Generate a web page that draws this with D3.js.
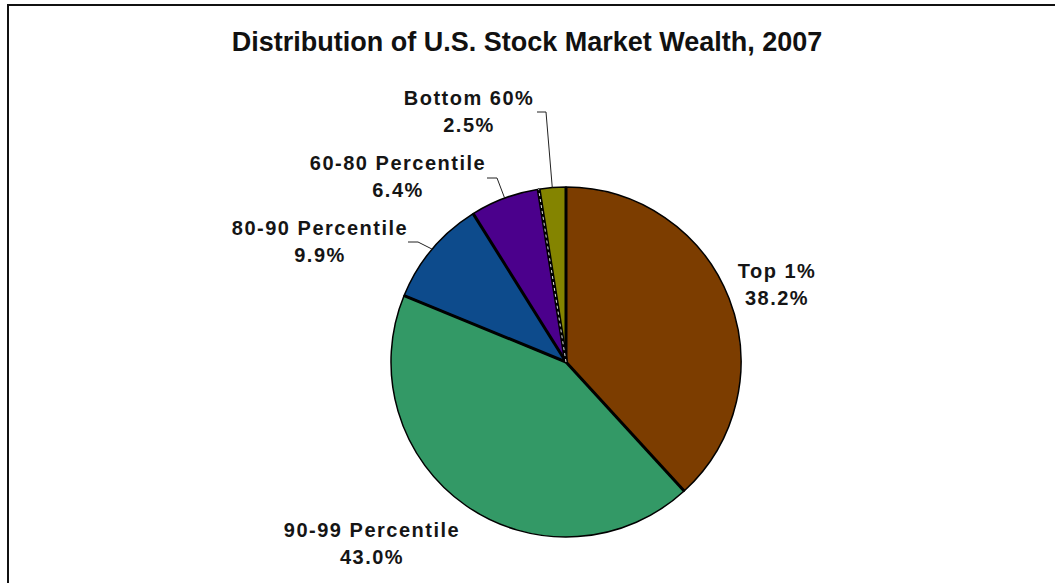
<!DOCTYPE html>
<html>
<head>
<meta charset="utf-8">
<script src="https://cdn.jsdelivr.net/npm/d3@7"></script>
<style>
	body { margin: 0; background: #fff; }
	.label { font-family: "Liberation Sans", Arial, sans-serif; font-weight: bold; font-size: 20px; letter-spacing: 1.5px; fill: #151515; }
	.title { font-family: "Liberation Sans Narrow", "Arial Narrow", "Liberation Sans", sans-serif; font-weight: bold; font-size: 27px; fill: #111; }
</style>
</head>
<body>
<script>
// data
const categories = ['Top 1%', '90-99 Percentile', '80-90 Percentile', '60-80 Percentile', 'Bottom 60%'];
const shares = [38.2, 43.0, 9.9, 6.4, 2.5];
const colors = ['#7c3d00', '#339966', '#0d4b8c', '#4b008c', '#848400'];

// label layout, relative to pie centre: [x of text centre, first baseline]
const labelPos = [[211, -84], [-194, 175], [-246, -127], [-168, -192], [-97, -257]];
// leader elbows for the small slices: [start x, start y, elbow x]
const leaders = [null, null, [-158, -120, -148], [-79, -184, -69], [-29, -250, -20]];

const width = 1055;
const height = 583;
const cx = 566;
const cy = 362;
const r = 175;

const svg = d3
	.select('body')
	.append('svg')
	.attr('width', width)
	.attr('height', height);

// outer frame (runs off the right and bottom edges)
svg
	.append('rect')
	.attr('x', 8)
	.attr('y', 5)
	.attr('width', width + 20)
	.attr('height', height + 20)
	.attr('fill', 'none')
	.attr('stroke', '#111')
	.attr('stroke-width', 2);

svg
	.append('text')
	.attr('class', 'title')
	.attr('x', 527)
	.attr('y', 51)
	.attr('text-anchor', 'middle')
	.text('Distribution of U.S. Stock Market Wealth, 2007');

const data = categories.map((c, i) => ({ name: c, value: shares[i], color: colors[i] }));

const pie = d3
	.pie()
	.sort(null)
	.value(d => d.value);

const arcs = pie(data);
const arc = d3.arc().innerRadius(0).outerRadius(r);

const g = svg.append('g').attr('transform', `translate(${cx},${cy})`);

g.selectAll('path.slice')
	.data(arcs)
	.enter()
	.append('path')
	.attr('class', 'slice')
	.attr('d', arc)
	.attr('fill', d => d.data.color)
	.attr('stroke', '#000')
	.attr('stroke-width', 1.5)
	.attr('stroke-linejoin', 'round');

// thicker radial separators
g.selectAll('line.sep')
	.data(arcs)
	.enter()
	.append('line')
	.attr('class', 'sep')
	.attr('x1', 0)
	.attr('y1', 0)
	.attr('x2', d => r * Math.sin(d.startAngle))
	.attr('y2', d => -r * Math.cos(d.startAngle))
	.attr('stroke', '#000')
	.attr('stroke-width', d => (d.index === 4 ? 4 : 3));

// the light dashed seam between the two smallest slices
const seam = arcs[4].startAngle;
g.append('line')
	.attr('x1', 0)
	.attr('y1', 0)
	.attr('x2', r * Math.sin(seam))
	.attr('y2', -r * Math.cos(seam))
	.attr('stroke', '#ddd')
	.attr('stroke-width', 1)
	.attr('stroke-dasharray', '3,3');

// leader lines
arcs.forEach((d, i) => {
	const l = leaders[i];
	if (!l) return;
	const mid = (d.startAngle + d.endAngle) / 2;
	const pts = [
		[l[0], l[1]],
		[l[2], l[1]],
		[r * Math.sin(mid), -r * Math.cos(mid)],
	];
	g.append('path')
		.attr('d', d3.line()(pts))
		.attr('fill', 'none')
		.attr('stroke', '#222')
		.attr('stroke-width', 1);
});

// labels
const fmt = d3.format('.1f');
const labels = g
	.selectAll('text.label')
	.data(arcs)
	.enter()
	.append('text')
	.attr('class', 'label')
	.attr('text-anchor', 'middle')
	.attr('transform', (d, i) => `translate(${labelPos[i][0]},${labelPos[i][1]})`);

labels
	.append('tspan')
	.attr('x', 0)
	.attr('y', 0)
	.text(d => d.data.name);

labels
	.append('tspan')
	.attr('x', 0)
	.attr('y', 27)
	.text(d => `${fmt(d.data.value)}%`);
</script>
</body>
</html>
